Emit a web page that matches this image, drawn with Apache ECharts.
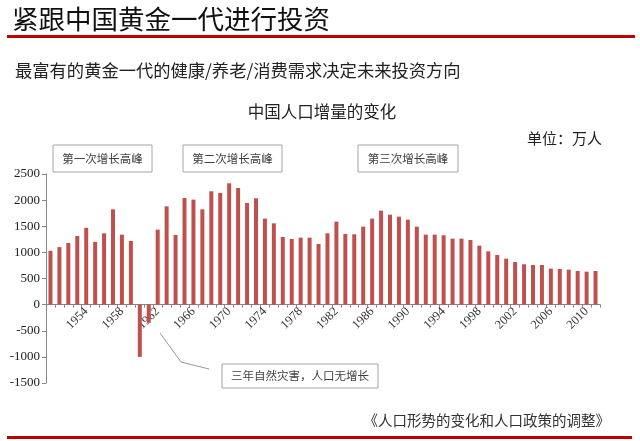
<!DOCTYPE html>
<html><head><meta charset="utf-8">
<script src="https://cdn.jsdelivr.net/npm/echarts@6/dist/echarts.min.js"></script>
<style>html,body{margin:0;padding:0;background:#fff}#c{width:640px;height:441px}</style>
</head><body><div id="c"></div>
<script>
const years = ['1950','1951','1952','1953','1954','1955','1956','1957','1958','1959',
  '1960','1961','1962','1963','1964','1965','1966','1967','1968','1969',
  '1970','1971','1972','1973','1974','1975','1976','1977','1978','1979',
  '1980','1981','1982','1983','1984','1985','1986','1987','1988','1989',
  '1990','1991','1992','1993','1994','1995','1996','1997','1998','1999',
  '2000','2001','2002','2003','2004','2005','2006','2007','2008','2009',
  '2010','2011'];
const growth = [1030,1100,1180,1314,1470,1200,1365,1824,1339,1218,
  -1000,-348,1435,1881,1333,2041,2009,1824,2169,2137,
  2322,2232,1945,2035,1646,1556,1295,1256,1282,1282,
  1161,1365,1588,1352,1346,1492,1646,1799,1722,1684,
  1626,1492,1339,1339,1327,1263,1263,1237,1129,1020,
  950,880,816,772,759,759,689,682,670,644,
  631,644];
const yMin = -1500, yMax = 2500, yStep = 500;
const pageTitle = '紧跟中国黄金一代进行投资';
const subTitle = '最富有的黄金一代的健康/养老/消费需求决定未来投资方向';
const chartTitle = '中国人口增量的变化';
const unitText = '单位：万人';
const peakLabels = ['第一次增长高峰','第二次增长高峰','第三次增长高峰'];
const noteText = '三年自然灾害，人口无增长';
const sourceText = '《人口形势的变化和人口政策的调整》';

const CJK = '"Noto Sans CJK SC", sans-serif';
const SERIF = '"Liberation Serif", "DejaVu Serif", serif';
const gridTop = 174, gridBottom = 58, H = 441;
const gridH = H - gridTop - gridBottom;
const zeroOffset = -gridH * (0 - yMin) / (yMax - yMin);

const chart = echarts.init(document.getElementById('c'), null, {renderer: 'canvas'});

function box(x, y, w, h, txt, fs) {
  return [
    {type: 'rect', shape: {x: x, y: y, width: w, height: h},
     style: {fill: '#fff', stroke: '#a6a6a6', lineWidth: 1}, z: 10},
    {type: 'text', x: x + w / 2, y: y + h / 2,
     style: {text: txt, font: fs + 'px ' + CJK, fill: '#404040', textAlign: 'center', textVerticalAlign: 'middle'}, z: 11}
  ];
}

chart.setOption({
  animation: false,
  backgroundColor: '#fff',
  grid: {left: 46, right: 40, top: gridTop, bottom: gridBottom, containLabel: false},
  xAxis: {
    type: 'category', data: years, position: 'bottom', offset: zeroOffset,
    axisLine: {onZero: false, lineStyle: {color: '#868686', width: 1}},
    axisTick: {show: true, interval: 0, length: 3, lineStyle: {color: '#868686'}},
    axisLabel: {
      interval: function (i) { return i % 4 === 0 && i > 0; },
      rotate: 45, margin: 5, fontFamily: SERIF, fontSize: 12.5, color: '#333'
    },
    splitLine: {show: false}
  },
  yAxis: {
    type: 'value', min: yMin, max: yMax, interval: yStep,
    axisLine: {show: true, lineStyle: {color: '#868686'}},
    axisTick: {show: true, length: 4, lineStyle: {color: '#868686'}},
    axisLabel: {fontFamily: SERIF, fontSize: 13, color: '#222', margin: 6,
      formatter: function (v) { return String(v); }},
    splitLine: {show: false}
  },
  series: [{
    type: 'bar', data: growth, barWidth: 4,
    itemStyle: {color: '#C0504D'}
  }],
  graphic: [
    {type: 'text', x: 12, y: 19, style: {text: pageTitle, font: '26.5px ' + CJK, fill: '#111', textVerticalAlign: 'middle'}},
    {type: 'rect', shape: {x: 7, y: 35, width: 628, height: 3}, style: {fill: '#C00000'}},
    {type: 'text', x: 15, y: 70, style: {text: subTitle, font: '17.3px ' + CJK, fill: '#222', textVerticalAlign: 'middle'}},
    {type: 'text', x: 322, y: 112, style: {text: chartTitle, font: '16.5px ' + CJK, fill: '#222', textAlign: 'center', textVerticalAlign: 'middle'}},
    {type: 'text', x: 602, y: 138, style: {text: unitText, font: '15px ' + CJK, fill: '#222', textAlign: 'right', textVerticalAlign: 'middle'}},
    ...box(53, 145, 99, 27, peakLabels[0], 11.5),
    ...box(183, 145, 99, 27, peakLabels[1], 11.5),
    ...box(358, 145, 100, 27, peakLabels[2], 11.5),
    {type: 'polyline', shape: {points: [[160, 333], [181, 362], [209, 369]]}, style: {stroke: '#999', lineWidth: 1, fill: null}, z: 9},
    ...box(222, 364, 156, 24, noteText, 11.5),
    {type: 'text', x: 610, y: 420, style: {text: sourceText, font: '14.5px ' + CJK, fill: '#333', textAlign: 'right', textVerticalAlign: 'middle'}},
    {type: 'rect', shape: {x: 7, y: 436, width: 625, height: 3}, style: {fill: '#C00000'}}
  ]
});
</script>
</body></html>
